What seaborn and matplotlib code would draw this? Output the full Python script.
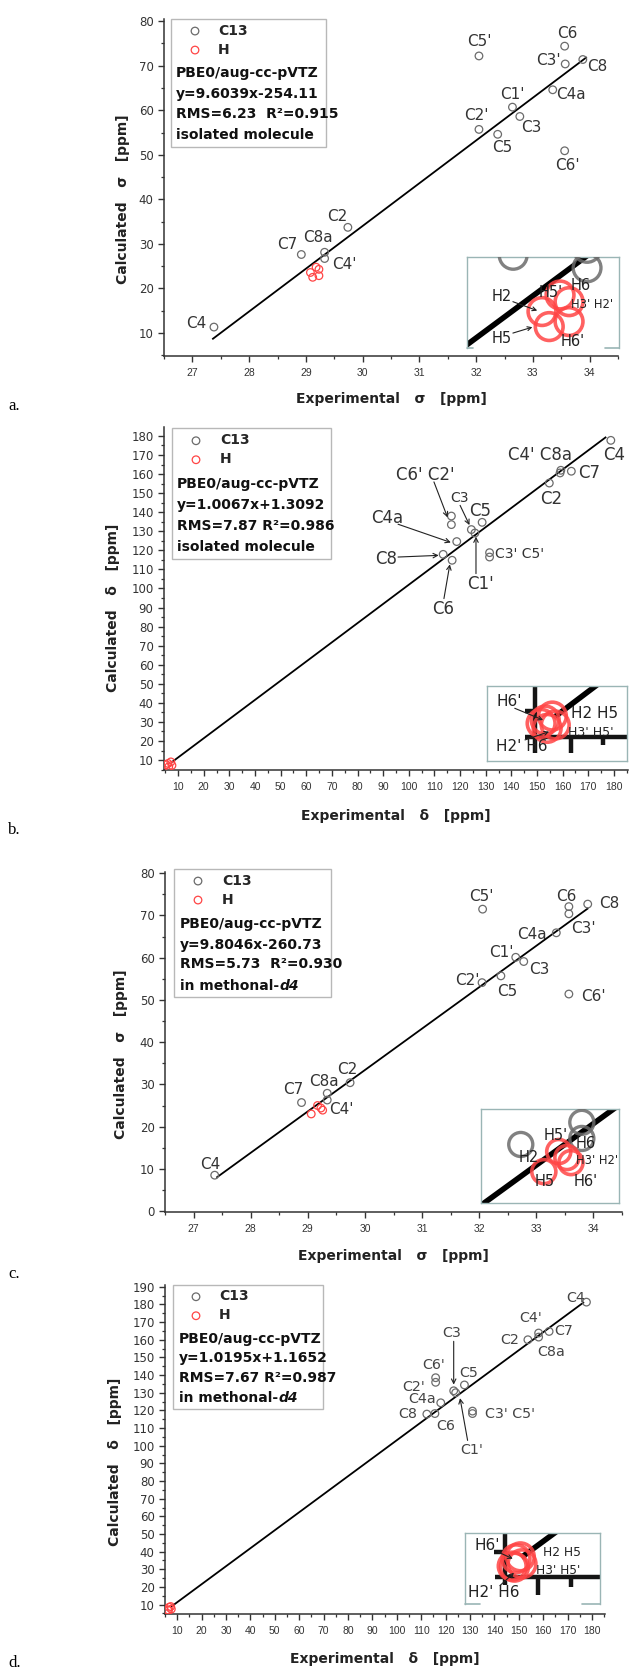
import matplotlib
matplotlib.use("Agg")
import matplotlib.pyplot as plt
import seaborn as sns
from matplotlib.ticker import MultipleLocator
from matplotlib.patches import Rectangle

# carbon atoms, same order in every panel
carbons = ["C2", "C3", "C4", "C4a", "C5", "C6", "C7", "C8", "C8a",
           "C1'", "C2'", "C3'", "C4'", "C5'", "C6'"]

# a. shielding sigma, isolated molecule
a_c_exp = [29.74, 32.77, 27.38, 33.35, 32.38, 33.56, 28.92, 33.88, 29.33,
           32.64, 32.05, 33.57, 29.33, 32.05, 33.56]
a_c_calc = [33.7, 58.6, 11.3, 64.6, 54.6, 74.4, 27.6, 71.4, 28.1,
            60.7, 55.7, 70.4, 26.7, 72.2, 50.9]
a_h_exp = [29.18, 29.23, 29.08, 29.12, 29.23]
a_h_calc = [24.75, 24.27, 23.56, 22.48, 22.84]

# b. shift delta, isolated molecule
b_c_exp = [154.8, 124.4, 178.8, 118.7, 128.6, 116.9, 163.4, 113.4, 159.3,
           125.8, 116.6, 131.5, 159.0, 131.5, 116.6]
b_c_calc = [155.3, 130.9, 177.7, 124.6, 134.7, 114.8, 161.5, 117.9, 162.0,
            129.1, 133.5, 118.8, 160.6, 116.5, 138.0]
b_h_exp = [6.05, 7.16, 7.60, 6.35, 5.42]
b_h_calc = [8.23, 9.05, 7.21, 6.52, 7.55]

# c. shielding sigma, in methanol-d4
c_c_exp = [29.74, 32.78, 27.37, 33.35, 32.38, 33.57, 28.89, 33.90, 29.34,
           32.64, 32.05, 33.57, 29.34, 32.06, 33.57]
c_c_calc = [30.4, 59.1, 8.5, 65.9, 55.7, 72.1, 25.7, 72.7, 27.9,
            60.1, 54.1, 70.4, 26.3, 71.5, 51.4]
c_h_exp = [29.17, 29.26, 29.06, 29.23]
c_h_calc = [25.0, 23.9, 23.0, 24.4]

# d. shift delta, in methanol-d4
d_c_exp = [153.7, 123.3, 177.7, 118.0, 127.7, 115.6, 162.4, 112.3, 158.1,
           124.1, 115.9, 131.0, 158.1, 131.0, 115.9]
d_c_calc = [160.0, 131.1, 181.3, 124.3, 134.4, 118.2, 164.7, 117.9, 161.5,
            130.0, 135.9, 119.6, 163.8, 118.2, 138.5]
d_h_exp = [6.69, 7.59, 6.12, 7.34, 6.45]
d_h_calc = [8.53, 7.48, 7.00, 8.92, 6.78]

# fitted lines: slope, intercept, first x, last x
a_fit = (9.6039, -254.11, 27.35, 33.95)
b_fit = (1.0067, 1.3092, 7.6, 177.0)
c_fit = (9.8046, -260.73, 27.40, 33.91)
d_fit = (1.0195, 1.1652, 7.5, 176.7)

a_info = ["PBE0/aug-cc-pVTZ", "y=9.6039x-254.11", "RMS=6.23  R²=0.915", "isolated molecule"]
b_info = ["PBE0/aug-cc-pVTZ", "y=1.0067x+1.3092", "RMS=7.87 R²=0.986", "isolated molecule"]
c_info = ["PBE0/aug-cc-pVTZ", "y=9.8046x-260.73", "RMS=5.73  R²=0.930", "in methonal-"]
d_info = ["PBE0/aug-cc-pVTZ", "y=1.0195x+1.1652", "RMS=7.67 R²=0.987", "in methonal-"]

# point labels (text, x, y, size)
a_labels = [("C5'", 32.05, 75.5), ("C6", 33.60, 77.3), ("C3'", 33.28, 71.2), ("C8", 34.13, 69.9),
            ("C1'", 32.64, 63.6), ("C4a", 33.67, 63.6), ("C2'", 32.0, 58.9), ("C3", 32.98, 56.1),
            ("C5", 32.46, 51.6), ("C6'", 33.61, 47.7), ("C2", 29.56, 36.1), ("C8a", 29.21, 31.5),
            ("C7", 28.67, 29.8), ("C4'", 29.68, 25.4), ("C4", 27.07, 12.1)]
b_labels = [("C4", 180.0, 169.9), ("C4' C8a", 151.2, 170.2), ("C7", 170.2, 160.6), ("C2", 155.6, 147.1),
            ("C6' C2'", 106.3, 159.4), ("C3", 119.7, 147.7, 10), ("C5", 127.8, 140.7),
            ("C4a", 91.6, 137.2), ("C8", 91.1, 115.7), ("C3' C5'", 143.1, 118.3, 10),
            ("C1'", 127.8, 102.2), ("C6", 113.4, 89.4)]
b_arrows = [((109.8, 155.9), (115.3, 136.6)), ((120.0, 143.6), (123.9, 132.6)),
            ((95.8, 133.7), (116.9, 123.9)), ((95.8, 116.5), (112.2, 117.4)),
            ((126.2, 107.8), (126.2, 127.9)), ((113.7, 94.7), (116.1, 113.4))]
c_labels = [("C5'", 32.03, 74.5), ("C6", 33.53, 74.5), ("C8", 34.28, 72.9), ("C3'", 33.83, 67.0),
            ("C4a", 32.93, 65.6), ("C1'", 32.38, 61.2), ("C3", 33.05, 57.3), ("C2'", 31.79, 54.6),
            ("C5", 32.49, 52.0), ("C6'", 34.0, 50.9), ("C2", 29.69, 33.6), ("C8a", 29.29, 30.6),
            ("C7", 28.74, 28.8), ("C4'", 29.59, 24.1), ("C4", 27.30, 11.1)]
d_labels = [("C4", 173.4, 183.7), ("C4'", 155.0, 172.3), ("C7", 168.5, 164.7), ("C2", 146.3, 160.0),
            ("C8a", 163.2, 152.8), ("C3", 122.5, 163.8), ("C6'", 115.1, 145.8), ("C5", 129.4, 141.0),
            ("C2'", 106.9, 133.4), ("C4a", 110.2, 126.2), ("C8", 104.4, 117.9), ("C6", 120.0, 111.0),
            ("C3' C5'", 146.3, 117.9), ("C1'", 130.7, 97.7)]
d_arrows = [((123.3, 159.1), (123.3, 133.8)), ((129.0, 103.0), (125.8, 127.7))]

# inset labels (text, x frac, y frac, size)
a_ins_labels = [("H2", .231, .571, 10.5), ("H5'", .549, .607, 10.5), ("H6", .748, .691, 10.5),
                ("H3' H2'", .82, .473, 8.3), ("H5", .231, .109, 10.5), ("H6'", .695, .073, 10.5)]
a_ins_arrows = [((.302, .509), (.462, .411)), ((.302, .164), (.43, .229))]
b_ins_labels = [("H6'", .16, .788, 11), ("H2 H5", .77, .633, 11), ("H3' H5'", .74, .376, 9),
                ("H2' H6", .25, .19, 11)]
b_ins_arrows = [((.2, .7), (.402, .544)), ((.273, .28), (.445, .39))]
c_ins_labels = [("H5'", .539, .716, 10.5), ("H6", .758, .631, 10.5), ("H2", .35, .49, 10.5),
                ("H3' H2'", .84, .454, 8.3), ("H5", .46, .23, 10.5), ("H6'", .758, .23, 10.5)]
d_ins_labels = [("H6'", .166, .82, 11), ("H2 H5", .72, .728, 8.8), ("H3' H5'", .69, .47, 8.7),
                ("H2' H6", .216, .155, 11)]
d_ins_arrows = [((.246, .728), (.355, .634)), ((.26, .258), (.364, .437))]

GREY = "#6b6b6b"
RED = "#ff4545"
FRAME = "#9ab5b5"
TXT = "#333333"
W, H = 630, 1673

sns.set_theme(style="ticks")
plt.rcParams["font.family"] = ["DejaVu Sans"]
plt.rcParams["axes.linewidth"] = 1.1
plt.rcParams["axes.edgecolor"] = TXT

panels = [
    dict(rect=(164, 19, 618, 356), xlim=(26.5, 34.5), ylim=(4.8, 80.5), xstep=(1, 0.5), ystep=(10, 5),
         c=(a_c_exp, a_c_calc), h=(a_h_exp, a_h_calc), fit=a_fit, info=a_info, italic=None,
         labels=a_labels, arrows=[], lsize=11, lcolor=TXT,
         box=(171, 19, 326, 147), leg=(195, 32, 218), info_x=176, info_y=[72.7, 94, 113.7, 135],
         sym="σ", xlab_top=392, ylab=(130, 199),
         inset=(467, 257, 619, 348), ins_xlim=(28.664, 29.507), ins_ylim=(20.94, 27.48), ins_s=400,
         ins_labels=a_ins_labels, ins_arrows=a_ins_arrows, ins_bottom=(0.04, 0.91), marks=None,
         letter=("a.", 406)),
    dict(rect=(164, 427, 628, 770), xlim=(4.5, 185.5), ylim=(4.8, 184.7), xstep=(10, 5), ystep=(10, 5),
         c=(b_c_exp, b_c_calc), h=(b_h_exp, b_h_calc), fit=b_fit, info=b_info, italic=None,
         labels=b_labels, arrows=b_arrows, lsize=12, lcolor=TXT,
         box=(172, 428, 331, 559), leg=(196, 441.7, 220), info_x=177, info_y=[484, 505, 526, 547],
         sym="δ", xlab_top=809, ylab=(120, 608),
         inset=(486.7, 685.7, 627, 761), ins_xlim=(-3.0, 18.7), ins_ylim=(-0.2, 15.3), ins_s=400,
         ins_labels=b_ins_labels, ins_arrows=b_ins_arrows, ins_bottom=None,
         marks=dict(major=3.4, minor=1.7, ytick=1.6, below=3.4),
         letter=("b.", 830)),
    dict(rect=(165, 872, 622, 1211.5), xlim=(26.5, 34.5), ylim=(-0.1, 80.3), xstep=(1, 0.5), ystep=(10, 5),
         c=(c_c_exp, c_c_calc), h=(c_h_exp, c_h_calc), fit=c_fit, info=c_info, italic="d4",
         labels=c_labels, arrows=[], lsize=11, lcolor=TXT,
         box=(174, 869, 331, 997), leg=(198, 882, 222), info_x=180, info_y=[924, 944.7, 964, 985.7],
         sym="σ", xlab_top=1249, ylab=(128, 1054),
         inset=(480.6, 1109.3, 619, 1203.3), ins_xlim=(28.594, 29.614), ins_ylim=(19.85, 29.2), ins_s=300,
         ins_labels=c_ins_labels, ins_arrows=[], ins_bottom=None, marks=None,
         letter=("c.", 1274)),
    dict(rect=(165, 1285, 605, 1614), xlim=(5.0, 185.3), ylim=(4.7, 191), xstep=(10, 5), ystep=(10, 5),
         c=(d_c_exp, d_c_calc), h=(d_h_exp, d_h_calc), fit=d_fit, info=d_info, italic="d4",
         labels=d_labels, arrows=d_arrows, lsize=10.3, lcolor="#444444",
         box=(173, 1285, 323, 1409), leg=(196, 1297.7, 219), info_x=179, info_y=[1339, 1358, 1377.5, 1397.7],
         sym="δ", xlab_top=1652, ylab=(122, 1462),
         inset=(464.8, 1532.6, 600, 1604), ins_xlim=(-1.0, 19.3), ins_ylim=(-0.89, 13.97), ins_s=400,
         ins_labels=d_ins_labels, ins_arrows=d_ins_arrows, ins_bottom=(0.11, 0.87),
         marks=dict(major=3.8, minor=2.1, ytick=1.6, below=1.7),
         letter=("d.", 1663)),
]

fig = plt.figure(figsize=(W / 100, H / 100), dpi=100)


def frac(rect, x, y):
    l, t, r, b = rect
    return (x - l) / (r - l), (b - y) / (b - t)


def fit_line(ax, fit, lw):
    slope, icpt, x0, x1 = fit
    ax.plot([x0, x1], [slope * x0 + icpt, slope * x1 + icpt], color="black", lw=lw,
            solid_capstyle="butt", zorder=1)


for p in panels:
    l, t, r, b = p["rect"]
    ax = fig.add_axes([l / W, 1 - b / H, (r - l) / W, (b - t) / H])
    fit_line(ax, p["fit"], 1.3)
    sns.scatterplot(x=p["c"][0], y=p["c"][1], ax=ax, color=GREY, facecolor="none", edgecolor=GREY,
                    s=30, linewidth=0.9, label="C13", zorder=3)
    sns.scatterplot(x=p["h"][0], y=p["h"][1], ax=ax, color=RED, facecolor="none", edgecolor=RED,
                    s=30, linewidth=0.9, label="H", zorder=3)
    ax.set_xlim(*p["xlim"])
    ax.set_ylim(*p["ylim"])
    ax.xaxis.set_major_locator(MultipleLocator(p["xstep"][0]))
    ax.xaxis.set_minor_locator(MultipleLocator(p["xstep"][1]))
    ax.yaxis.set_major_locator(MultipleLocator(p["ystep"][0]))
    ax.yaxis.set_minor_locator(MultipleLocator(p["ystep"][1]))
    ax.spines[["top", "right"]].set_visible(False)
    ax.tick_params(which="major", direction="out", length=4, width=1, color=TXT)
    ax.tick_params(which="minor", direction="out", length=2.5, width=0.9, color=TXT)
    ax.tick_params(axis="x", labelsize=7.5, labelfontfamily="Liberation Sans", labelcolor=TXT, pad=5)
    ax.tick_params(axis="y", labelsize=8.5, labelcolor=TXT, pad=3.5)

    ax.set_xlabel(f"Experimental   {p['sym']}   [ppm]", fontsize=10, fontweight="bold", color="#222")
    ax.set_ylabel(f"Calculated   {p['sym']}   [ppm]", fontsize=10, fontweight="bold", color="#222")
    ax.xaxis.set_label_coords(0.5, frac(p["rect"], 0, p["xlab_top"])[1])
    ax.yaxis.set_label_coords(*frac(p["rect"], *p["ylab"]))

    # legend box with method text
    bx0, by1 = frac(p["rect"], p["box"][0], p["box"][1])
    bx1, by0 = frac(p["rect"], p["box"][2], p["box"][3])
    ax.add_patch(Rectangle((bx0, by0), bx1 - bx0, by1 - by0, transform=ax.transAxes, fill=False,
                           ec="#b8b8b8", lw=1, clip_on=False, zorder=4))
    fs_px = 10 * 100 / 72
    mx, row1, tx = p["leg"]
    lx, ly = frac(p["rect"], mx - fs_px * 0.5, row1 - 8.3)
    ax.legend(loc="upper left", bbox_to_anchor=(lx, ly), frameon=False, borderpad=0, borderaxespad=0,
              handlelength=1.0, handletextpad=(tx - mx - fs_px * 0.5) / fs_px, labelspacing=0.36,
              prop=dict(weight="bold", size=10))
    for i, (line, yy) in enumerate(zip(p["info"], p["info_y"])):
        x_, y_ = frac(p["rect"], p["info_x"], yy)
        tt = ax.text(x_, y_, line, transform=ax.transAxes, fontsize=10, fontweight="bold",
                     va="center", ha="left", color="#111", zorder=5)
        if i == 3 and p["italic"]:
            ax.annotate(p["italic"], xy=(1, 0.5), xycoords=tt, va="center", ha="left", fontsize=10,
                        fontweight="bold", style="italic", color="#111")

    for lab in p["labels"]:
        size = lab[3] if len(lab) > 3 else p["lsize"]
        ax.text(lab[1], lab[2], lab[0], fontsize=size, color=p["lcolor"], ha="center", va="center",
                zorder=3)
    for start, tip in p["arrows"]:
        ax.annotate("", xy=tip, xytext=start,
                    arrowprops=dict(arrowstyle="->", lw=0.8, color="#222", shrinkA=0, shrinkB=1,
                                    mutation_scale=8))

    # zoomed inset around the H points
    il, it, ir, ib = p["inset"]
    ix0, iy1 = frac(p["rect"], il, it)
    ix1, iy0 = frac(p["rect"], ir, ib)
    ins = ax.inset_axes([ix0, iy0, ix1 - ix0, iy1 - iy0])
    ins.set_facecolor("white")
    if p["marks"]:
        m = p["marks"]
        xl, yb = p["xlim"][0], p["ylim"][0]
        kw = dict(color="#151515", lw=3.2, solid_capstyle="butt")
        ins.plot([xl, xl], [yb - m["below"], 40], **kw)
        ins.plot([xl - 1.5, 60], [yb, yb], **kw)
        ins.plot([10, 10], [yb, yb - m["major"]], **kw)
        ins.plot([15, 15], [yb, yb - m["minor"]], **kw)
        ins.plot([xl - m["ytick"], xl], [10, 10], **kw)
    fit_line(ins, p["fit"], 4)
    sns.scatterplot(x=p["c"][0], y=p["c"][1], ax=ins, color=GREY, facecolor="none", edgecolor=GREY,
                    s=p["ins_s"], linewidth=2.4, alpha=0.85, legend=False, zorder=3)
    sns.scatterplot(x=p["h"][0], y=p["h"][1], ax=ins, color=RED, facecolor="none", edgecolor=RED,
                    s=p["ins_s"], linewidth=2.6, alpha=0.85, legend=False, zorder=3)
    ins.set_xlim(*p["ins_xlim"])
    ins.set_ylim(*p["ins_ylim"])
    ins.set_xticks([])
    ins.set_yticks([])
    ins.set_xlabel("")
    ins.set_ylabel("")
    for sp in ins.spines.values():
        sp.set_color(FRAME)
        sp.set_linewidth(1)
    if p["ins_bottom"]:
        ins.spines["bottom"].set_visible(False)
        ins.plot([0, p["ins_bottom"][0]], [0, 0], transform=ins.transAxes, color=FRAME, lw=1.2,
                 clip_on=False)
        ins.plot([p["ins_bottom"][1], 1], [0, 0], transform=ins.transAxes, color=FRAME, lw=1.2,
                 clip_on=False)
    for text, fx, fy, size in p["ins_labels"]:
        ins.text(fx, fy, text, transform=ins.transAxes, fontsize=size, color="#222",
                 ha="center", va="center", zorder=6)
    for start, tip in p["ins_arrows"]:
        ins.annotate("", xy=tip, xytext=start, xycoords="axes fraction", textcoords="axes fraction",
                     arrowprops=dict(arrowstyle="->", lw=0.8, color="#222", shrinkA=0, shrinkB=0,
                                     mutation_scale=7))

    fig.text(8 / W, 1 - p["letter"][1] / H, p["letter"][0], fontsize=12, family="Liberation Serif",
             va="center", ha="left", color="black")

fig.savefig("out.png", dpi=100)
